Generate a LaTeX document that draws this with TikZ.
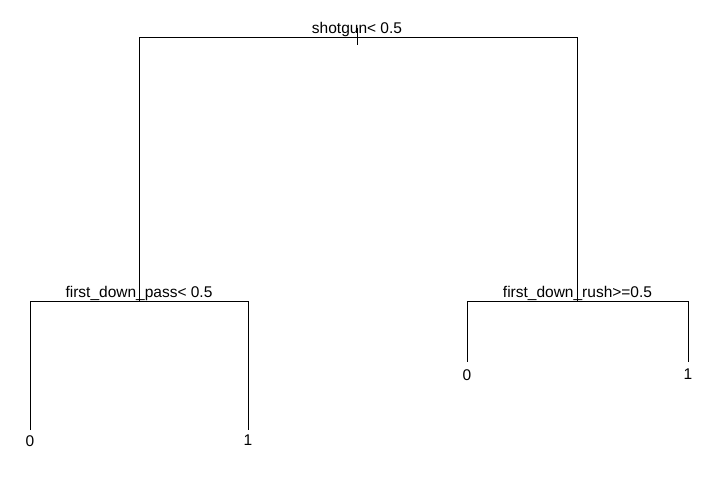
\documentclass[tikz,border=0pt]{standalone}
\usepackage{fontspec}
\setmainfont{Liberation Sans}
\usetikzlibrary{positioning}
\tikzset{
  every picture/.style={x=1bp,y=-1bp},
  branch/.style={line width=1bp,black},
  splitlabel/.style={anchor=base,inner sep=0pt,font=\fontsize{15.5bp}{18bp}\selectfont},
  leaflabel/.style={anchor=north,inner sep=0pt,font=\fontsize{15.5bp}{18bp}\selectfont}
}
\begin{document}
\begin{tikzpicture}
  \useasboundingbox [fill=white] (0,0) rectangle (717,478);

  % split points
  \coordinate (n1) at (357,37.3);
  \coordinate (n2) at (139,301.7);
  \coordinate (n3) at (577.5,301.7);
  % leaves
  \coordinate (n4) at (30,430);
  \coordinate (n5) at (248,430);
  \coordinate (n6) at (467,361.5);
  \coordinate (n7) at (688,361.5);

  \node [splitlabel, above=4bp of n1, anchor=base] (root) {shotgun< 0.5};
  \node [splitlabel, above=4.5bp of n2, anchor=base] (pass) {first\_down\_pass< 0.5};
  \node [splitlabel, above=4.5bp of n3, anchor=base] (rush) {first\_down\_rush>=0.5};

  \draw [branch] (n2) |- (n1) -| (n3);
  \draw [branch] (n1) -- ++(0,7.7);
  \draw [branch] (n1) -- ++(0,-9.3);
  \draw [branch] (n4) |- (n2) -| (n5);
  \draw [branch] (n6) |- (n3) -| (n7);

  \node [leaflabel, below=5bp of n4] (ll) {0};
  \node [leaflabel, below=5bp of n5] (lr) {1};
  \node [leaflabel, below=7.5bp of n6] (rl) {0};
  \node [leaflabel, below=7.5bp of n7] (rr) {1};
\end{tikzpicture}
\end{document}
